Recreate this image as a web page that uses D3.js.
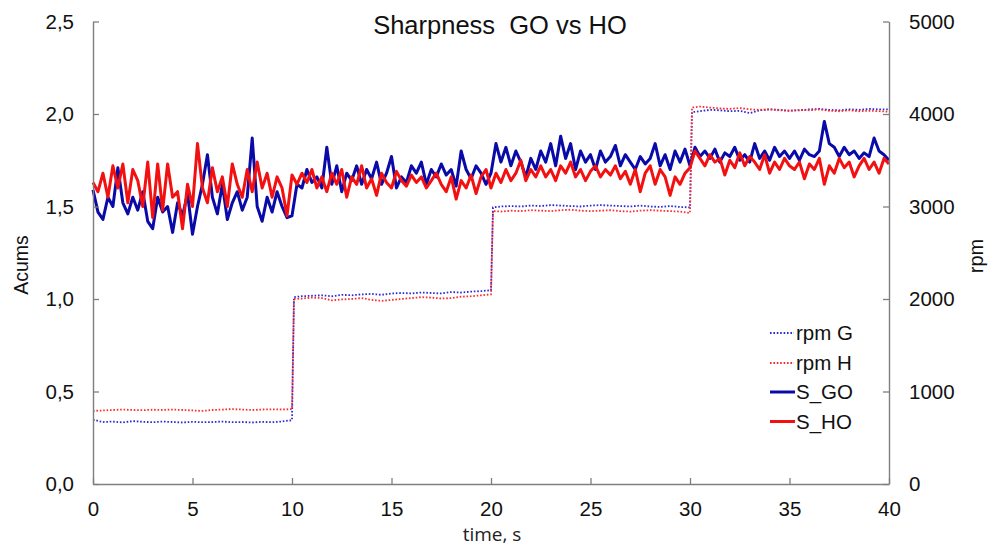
<!DOCTYPE html>
<html>
<head>
<meta charset="utf-8">
<script src="https://cdn.jsdelivr.net/npm/d3@7"></script>
<style>
  html, body { margin: 0; padding: 0; background: #fff; }
  svg { display: block; }
</style>
</head>
<body>
<svg id="chart" width="990" height="547"></svg>
<script>
// ---------- DATA ----------
const titleText = "Sharpness  GO vs HO";
const xTicks = [0, 5, 10, 15, 20, 25, 30, 35, 40];
const leftTicks = [0, 0.5, 1.0, 1.5, 2.0, 2.5];
const rightTicks = [0, 1000, 2000, 3000, 4000, 5000];
const seriesNames = ["rpm G", "rpm H", "S_GO", "S_HO"];

// Sharpness sampled every 0.25 s from 0 to 40 s
const sStep = 0.25;
const sGO = [
  1.59,1.47,1.43,1.55,1.50,1.71,1.52,1.46,1.55,1.48,1.58,1.42,1.38,1.55,1.47,1.50,1.36,1.52,1.45,1.57,
  1.35,1.50,1.62,1.78,1.55,1.46,1.62,1.43,1.52,1.58,1.48,1.55,1.87,1.50,1.42,1.55,1.47,1.58,1.50,1.44,1.45,
  1.62,1.60,1.70,1.63,1.66,1.60,1.82,1.62,1.72,1.58,1.68,1.64,1.72,1.62,1.70,1.65,1.74,1.62,1.68,1.77,
  1.60,1.66,1.63,1.72,1.68,1.74,1.62,1.70,1.66,1.73,1.67,1.70,1.61,1.80,1.70,1.65,1.72,1.68,1.62,1.68,
  1.84,1.74,1.82,1.72,1.80,1.74,1.66,1.76,1.70,1.80,1.74,1.84,1.72,1.88,1.76,1.84,1.70,1.80,1.74,1.78,
  1.70,1.80,1.74,1.77,1.83,1.72,1.78,1.74,1.70,1.77,1.73,1.76,1.84,1.72,1.78,1.70,1.80,1.74,1.81,1.72,
  1.82,1.77,1.80,1.76,1.81,1.74,1.79,1.77,1.82,1.75,1.78,1.74,1.84,1.76,1.80,1.75,1.82,1.77,1.80,1.76,
  1.80,1.75,1.81,1.78,1.77,1.80,1.96,1.84,1.82,1.77,1.82,1.78,1.80,1.76,1.79,1.77,1.87,1.80,1.78,1.75
];
const sHO = [
  1.63,1.58,1.68,1.55,1.72,1.60,1.73,1.52,1.70,1.64,1.50,1.74,1.44,1.73,1.48,1.73,1.55,1.58,1.38,1.62,
  1.50,1.84,1.60,1.52,1.71,1.58,1.66,1.50,1.73,1.62,1.55,1.70,1.58,1.74,1.60,1.68,1.55,1.66,1.60,1.45,1.67,
  1.62,1.68,1.63,1.70,1.60,1.66,1.58,1.68,1.62,1.70,1.55,1.66,1.62,1.72,1.60,1.65,1.56,1.68,1.63,1.60,
  1.69,1.64,1.61,1.67,1.63,1.66,1.60,1.64,1.68,1.62,1.58,1.66,1.54,1.64,1.60,1.67,1.57,1.66,1.70,1.60,
  1.68,1.63,1.70,1.64,1.68,1.75,1.64,1.70,1.66,1.72,1.66,1.70,1.64,1.72,1.68,1.74,1.66,1.70,1.64,1.69,
  1.72,1.66,1.70,1.67,1.72,1.65,1.69,1.62,1.70,1.58,1.68,1.72,1.62,1.70,1.66,1.56,1.66,1.62,1.68,1.71,
  1.80,1.76,1.72,1.78,1.74,1.76,1.67,1.75,1.71,1.79,1.72,1.77,1.74,1.70,1.78,1.68,1.74,1.70,1.76,1.72,
  1.70,1.74,1.65,1.73,1.70,1.76,1.62,1.72,1.68,1.76,1.71,1.74,1.66,1.72,1.76,1.70,1.74,1.68,1.76,1.73
];

// Speed (rpm) samples
const rpmTime = [
  0,0.5,1,1.5,2,2.5,3,3.5,4,4.5,5,5.5,6,6.5,7,7.5,8,8.5,9,9.5,10,
  10.1,10.5,11,11.5,12,12.5,13,13.5,14,14.5,15,15.5,16,16.5,17,17.5,18,18.5,19,19.5,20,
  20.1,20.5,21,21.5,22,22.5,23,23.5,24,24.5,25,25.5,26,26.5,27,27.5,28,28.5,29,29.5,30,
  30.1,30.5,31,31.5,32,32.5,33,33.5,34,34.5,35,35.5,36,36.5,37,37.5,38,38.5,39,39.5,40
];
const rpmG = [
  695,670,675,665,680,672,668,675,670,665,672,668,670,675,668,670,665,672,668,676,690,
  2020,2030,2035,2040,2030,2045,2040,2050,2055,2045,2060,2065,2060,2070,2065,2060,2075,2070,2080,2085,2095,
  2990,3000,3005,3000,3010,3005,3015,3010,3005,3000,3010,3015,3010,3005,3000,3010,3000,2995,3005,2995,2990,
  4020,4030,4045,4040,4030,4035,4010,4040,4050,4045,4035,4040,4050,4055,4045,4040,4050,4045,4055,4050,4050
];
const rpmH = [
  790,795,800,805,800,798,803,800,805,800,795,790,800,805,810,805,800,805,808,805,810,
  2000,2005,2015,2010,1985,1995,2000,2010,1990,1980,1990,2000,2010,2020,2015,2005,2010,2025,2030,2040,2050,
  2950,2945,2955,2950,2960,2955,2950,2960,2965,2955,2950,2955,2960,2950,2945,2955,2960,2955,2950,2945,2930,
  4070,4080,4070,4060,4055,4065,4050,4045,4050,4040,4035,4045,4040,4050,4035,4030,4040,4030,4035,4030,4025
];

// ---------- DRAW ----------
(function () {
const svg = d3.select("#chart");
const mLeft = 93, mRight = 889, mTop = 21.5, mBottom = 484;
const axisColor = "#7f7f7f";
const font = "Liberation Sans, Arial, sans-serif";

const x = d3.scaleLinear().domain([0, 40]).range([mLeft, mRight]);
const yL = d3.scaleLinear().domain([0, 2.5]).range([mBottom, mTop]);
const yR = d3.scaleLinear().domain([0, 5000]).range([mBottom, mTop]);

const colors = {
  "rpm G": "#2a2ad8",
  "rpm H": "#ff2a2a",
  "S_GO": "#0a0aa8",
  "S_HO": "#f21010"
};

// rpm dotted lines
const rpmLine = d3.line().x(d => x(d.t)).y(d => yR(d.v));
const rpmGData = rpmTime.map((t, i) => ({t, v: rpmG[i]}));
const rpmHData = rpmTime.map((t, i) => ({t, v: rpmH[i]}));
[[rpmGData, "rpm G"], [rpmHData, "rpm H"]].forEach(([data, name]) => {
  svg.append("path").datum(data)
    .attr("d", rpmLine)
    .attr("fill", "none")
    .attr("stroke", colors[name])
    .attr("stroke-width", 1.8)
    .attr("stroke-dasharray", "1.6,1.8");
});

// Sharpness lines
const sLine = d3.line().x(d => x(d.t)).y(d => yL(d.v));
[[sGO, "S_GO"], [sHO, "S_HO"]].forEach(([arr, name]) => {
  const data = arr.map((v, i) => ({t: i * sStep, v}));
  svg.append("path").datum(data)
    .attr("d", sLine)
    .attr("fill", "none")
    .attr("stroke", colors[name])
    .attr("stroke-width", 3)
    .attr("stroke-linejoin", "round");
});

// Axes
const fmtComma = d => d3.format(".1f")(d).replace(".", ",");
const gL = svg.append("g").attr("transform", `translate(${mLeft},0)`)
  .call(d3.axisLeft(yL).tickValues(leftTicks).tickFormat(fmtComma).tickSizeInner(-6).tickSizeOuter(0).tickPadding(19));
const gR = svg.append("g").attr("transform", `translate(${mRight},0)`)
  .call(d3.axisRight(yR).tickValues(rightTicks).tickFormat(d3.format("d")).tickSizeInner(-6).tickSizeOuter(0).tickPadding(20));
const gB = svg.append("g").attr("transform", `translate(0,${mBottom})`)
  .call(d3.axisBottom(x).tickValues(xTicks).tickFormat(d3.format("d")).tickSizeInner(-6).tickSizeOuter(0).tickPadding(17));

[gL, gR, gB].forEach(g => {
  g.select(".domain").attr("stroke", axisColor).attr("stroke-width", 1.4);
  g.selectAll(".tick line").attr("stroke", axisColor).attr("stroke-width", 1.3);
  g.selectAll(".tick text").attr("fill", "#111").style("font-family", font).style("font-size", "20.5px");
});

// Title
svg.append("text")
  .attr("x", 500).attr("y", 34)
  .attr("text-anchor", "middle")
  .style("white-space", "pre")
  .style("font-family", font).style("font-size", "25.5px").attr("fill", "#111")
  .text(titleText);

// Axis titles
svg.append("text")
  .attr("transform", "translate(28,265) rotate(-90)")
  .attr("text-anchor", "middle")
  .style("font-family", font).style("font-size", "19.5px").attr("fill", "#111")
  .text("Acums");
svg.append("text")
  .attr("transform", "translate(983,256) rotate(-90)")
  .attr("text-anchor", "middle")
  .style("font-family", font).style("font-size", "20px").attr("fill", "#111")
  .text("rpm");
svg.append("text")
  .attr("x", 492).attr("y", 541)
  .attr("text-anchor", "middle")
  .style("font-family", "Open Sans, sans-serif").style("font-size", "19px").attr("fill", "#222")
  .text("time, s");

// Legend
const legendY = [333, 363, 392, 421.5];
const leg = svg.append("g");
seriesNames.forEach((name, i) => {
  const dotted = name.startsWith("rpm");
  leg.append("line")
    .attr("x1", 770).attr("x2", dotted ? 794 : 795)
    .attr("y1", legendY[i]).attr("y2", legendY[i])
    .attr("stroke", colors[name])
    .attr("stroke-width", dotted ? 1.8 : 3)
    .attr("stroke-dasharray", dotted ? "1.6,1.8" : null);
  leg.append("text")
    .attr("x", 796).attr("y", legendY[i])
    .attr("dy", "0.35em")
    .style("font-family", font).style("font-size", "20.5px").attr("fill", "#111")
    .text(name);
});
})();
</script>
</body>
</html>
